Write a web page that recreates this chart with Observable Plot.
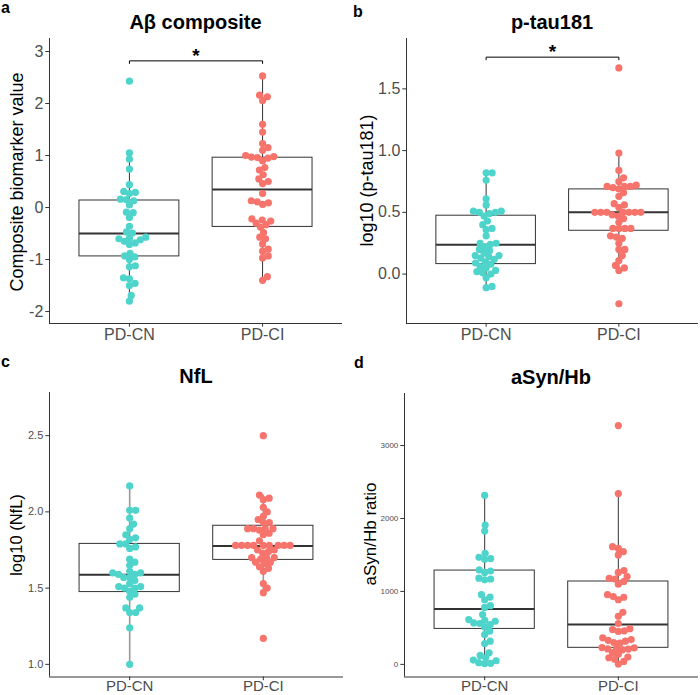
<!DOCTYPE html>
<html><head><meta charset="utf-8">
<script src="https://cdn.jsdelivr.net/npm/d3@7"></script>
<script src="https://cdn.jsdelivr.net/npm/@observablehq/plot@0.6"></script>
<style>
body{margin:0;background:#fff;}
#wrap{position:relative;width:700px;height:695px;overflow:hidden;font-family:"Liberation Sans",Arial,Helvetica,sans-serif;}
.p{position:absolute;}
</style>
</head><body><div id="wrap"></div>
<script>
// ---- data ----
const groups = ["PD-CN", "PD-CI"];
const groupColors = ["#4FD4CB", "#F6746C"];

// a: Aβ composite
const abCN = [2.43, 1.05, 0.93, 0.74, 0.44, 0.31, 0.29, 0.27, 0.16, 0.15, 0.13, 0.05, -0.09, -0.1, -0.19, -0.36, -0.47, -0.49, -0.57, -0.59, -0.62, -0.6, -0.65, -0.68, -0.71, -0.88, -0.93, -0.95, -1.0, -1.12, -1.14, -1.35, -1.37, -1.46, -1.5, -1.69, -1.8];
const abCI = [2.53, 2.16, 2.13, 2.06, 1.6, 1.45, 1.23, 1.15, 1.1, 1.0, 0.98, 0.97, 0.96, 0.95, 0.9, 0.77, 0.72, 0.63, 0.55, 0.5, 0.46, 0.27, 0.13, 0.11, 0.09, 0.06, -0.22, -0.24, -0.26, -0.3, -0.33, -0.38, -0.48, -0.57, -0.6, -0.7, -0.8, -0.84, -0.93, -0.97, -1.33, -1.4];
// box stats per group: [lower whisker, Q1, median, Q3, upper whisker]
const abBox = [[-1.8, -0.94, -0.5, 0.135, 1.05], [-1.4, -0.373, 0.347, 0.958, 2.53]];
const abTicks = [-2, -1, 0, 1, 2, 3];
const abSig = ["PD-CN", "PD-CI", 2.82, "*"];

// b: p-tau181
const ptCN = [0.82, 0.82, 0.76, 0.61, 0.56, 0.51, 0.51, 0.5, 0.5, 0.49, 0.47, 0.43, 0.4, 0.37, 0.36, 0.31, 0.25, 0.24, 0.25, 0.22, 0.2, 0.19, 0.17, 0.15, 0.15, 0.14, 0.13, 0.12, 0.1, 0.09, 0.08, 0.06, 0.05, 0.03, 0.02, 0.01, 0.0, -0.03, -0.1, -0.11];
const ptCI = [1.67, 0.98, 0.84, 0.78, 0.75, 0.72, 0.71, 0.71, 0.7, 0.71, 0.69, 0.66, 0.63, 0.57, 0.56, 0.54, 0.5, 0.5, 0.5, 0.5, 0.5, 0.5, 0.5, 0.48, 0.47, 0.45, 0.42, 0.37, 0.37, 0.37, 0.37, 0.31, 0.3, 0.29, 0.25, 0.2, 0.2, 0.15, 0.11, 0.07, 0.05, 0.03, -0.24];
const ptBox = [[-0.11, 0.081, 0.238, 0.473, 0.82], [0.02, 0.351, 0.5, 0.686, 0.98]];
const ptTicks = [0, 0.5, 1.0, 1.5];
const ptSig = ["PD-CN", "PD-CI", 1.757, "*"];

// c: NfL
const nfCN = [2.17, 2.01, 2.01, 1.96, 1.92, 1.89, 1.85, 1.83, 1.82, 1.79, 1.79, 1.77, 1.76, 1.69, 1.67, 1.65, 1.61, 1.6, 1.6, 1.59, 1.59, 1.57, 1.57, 1.55, 1.53, 1.51, 1.51, 1.5, 1.5, 1.48, 1.46, 1.44, 1.37, 1.37, 1.34, 1.34, 1.24, 1.0];
const nfCI = [2.5, 2.11, 2.09, 2.08, 2.03, 2.0, 1.97, 1.95, 1.93, 1.93, 1.89, 1.89, 1.89, 1.88, 1.89, 1.86, 1.85, 1.81, 1.78, 1.78, 1.78, 1.78, 1.78, 1.78, 1.78, 1.78, 1.78, 1.75, 1.75, 1.74, 1.73, 1.7, 1.7, 1.7, 1.69, 1.67, 1.67, 1.66, 1.64, 1.63, 1.61, 1.53, 1.5, 1.47, 1.17];
const nfBox = [[1.0, 1.474, 1.587, 1.79, 2.17], [1.47, 1.685, 1.776, 1.909, 2.11]];
const nfTicks = [1.0, 1.5, 2.0, 2.5];

// d: aSyn/Hb
const asCN = [2318, 1909, 1827, 1523, 1468, 1450, 1441, 1295, 1280, 1260, 1182, 1170, 1159, 955, 923, 886, 805, 780, 682, 614, 605, 591, 568, 560, 545, 514, 455, 409, 318, 286, 159, 123, 91, 59, 50, 23, 15, 10];
const asCI = [3273, 2341, 1614, 1590, 1545, 1500, 1286, 1260, 1204, 1180, 1170, 1136, 1100, 955, 930, 920, 886, 714, 660, 560, 490, 477, 460, 452, 364, 340, 330, 318, 300, 290, 227, 220, 210, 200, 212, 230, 160, 140, 100, 91, 70, 40, 5];
const asBox = [[5, 486, 759, 1286, 2318], [5, 227, 545, 1136, 2341]];
const asTicks = [0, 1000, 2000, 3000];

const titles = ["Aβ composite", "p-tau181", "NfL", "aSyn/Hb"];
const yTitles = ["Composite biomarker value", "log10 (p-tau181)", "log10 (NfL)", "aSyn/Hb ratio"];
const letters = ["a", "b", "c", "d"];

// ---- beeswarm layout (pixel space) ----
function swarm(values, pxY, d) {
  const order = values.map((v, i) => i).sort((a, b) => values[a] - values[b]);
  const placed = [], out = new Array(values.length);
  for (const i of order) {
    const y = values[i] * pxY;
    const near = placed.filter(p => Math.abs(p.y - y) < d);
    const cands = [0];
    for (const p of near) {
      const dx = Math.sqrt(d * d - (p.y - y) ** 2);
      cands.push(p.x + dx, p.x - dx);
    }
    cands.sort((a, b) => Math.abs(a) - Math.abs(b));
    let best = 0;
    for (const c of cands) {
      if (near.every(p => (p.x - c) ** 2 + (p.y - y) ** 2 >= d * d - 1e-6)) { best = c; break; }
    }
    placed.push({x: best, y});
    out[i] = best;
  }
  return out;
}

const FONT = '"Liberation Sans", Arial, Helvetica, sans-serif';

function panel(cfg) {
  const {cn, ci, box, domain, ticks, fmt, W, H, ml, mr, mt, mb, tickFs, xFs, xPad, sig, wColor, wWidth} = cfg;
  const innerW = W - ml - mr, innerH = H - mt - mb;
  const pxX = innerW / 2.2, pxY = innerH / (domain[1] - domain[0]);
  const sets = [cn, ci].map((vals, gi) => {
    const off = swarm(vals, pxY, 6);
    return vals.map((v, i) => ({x: gi + 1 + off[i] / pxX, y: v}));
  });
  const boxes = box.map((b, gi) => ({x: gi + 1, lo: b[0], q1: b[1], med: b[2], q3: b[3], hi: b[4]}));
  const marks = [
    Plot.ruleX(boxes, {x: "x", y1: "q3", y2: "hi", stroke: wColor, strokeWidth: wWidth}),
    Plot.ruleX(boxes, {x: "x", y1: "lo", y2: "q1", stroke: wColor, strokeWidth: wWidth}),
    Plot.rect(boxes, {x1: d => d.x - 0.375, x2: d => d.x + 0.375, y1: "q1", y2: "q3", fill: "white", stroke: "#333", strokeWidth: 1}),
    Plot.ruleY(boxes, {x1: d => d.x - 0.375, x2: d => d.x + 0.375, y: "med", stroke: "#333", strokeWidth: 2}),
    Plot.dot(sets[0], {x: "x", y: "y", r: 3.6, fill: groupColors[0], stroke: null}),
    Plot.dot(sets[1], {x: "x", y: "y", r: 3.6, fill: groupColors[1], stroke: null}),
    Plot.ruleX([0.4], {stroke: "#333", strokeWidth: 1}),
    Plot.ruleY([domain[0]], {stroke: "#333", strokeWidth: 1}),
    Plot.axisY({ticks, tickFormat: fmt, tickSize: 3.7, tickPadding: 2.5, fontSize: tickFs, stroke: "#333", fill: "#4d4d4d", label: null}),
    Plot.axisX({ticks: [1, 2], tickFormat: d => groups[d - 1], tickSize: 3.7, tickPadding: xPad, fontSize: xFs, stroke: "#333", fill: "#4d4d4d", label: null})
  ];
  if (sig) {
    const x1 = groups.indexOf(sig[0]) + 1, x2 = groups.indexOf(sig[1]) + 1, ys = sig[2];
    const tip = ys - 2.6 / pxY;
    marks.push(Plot.line([{x: x1, y: tip}, {x: x1, y: ys}, {x: x2, y: ys}, {x: x2, y: tip}], {x: "x", y: "y", stroke: "black", strokeWidth: 1}));
    marks.push(Plot.text([{x: (x1 + x2) / 2, y: ys, t: sig[3]}], {x: "x", y: "y", text: "t", fontSize: 19, fontWeight: "bold", fill: "black", dy: -5}));
  }
  return Plot.plot({
    width: W, height: H, marginLeft: ml, marginRight: mr, marginTop: mt, marginBottom: mb,
    x: {domain: [0.4, 2.6], label: null},
    y: {domain, label: null},
    style: {background: "transparent", overflow: "visible", fontFamily: FONT},
    marks
  });
}

const wrap = document.getElementById("wrap");
function place(el, left, top) {
  const d = document.createElement("div");
  d.className = "p"; d.style.left = left + "px"; d.style.top = top + "px";
  d.appendChild(el); wrap.appendChild(d);
}

place(panel({cn: abCN, ci: abCI, box: abBox, domain: [-2.23, 3.25], ticks: abTicks, fmt: d => String(d),
  W: 350, H: 345, ml: 49, mr: 8, mt: 38, mb: 22, tickFs: 16, xFs: 16, xPad: 1, sig: abSig, wColor: "#333", wWidth: 1}), 0, 0);
place(panel({cn: ptCN, ci: ptCI, box: ptBox, domain: [-0.40, 1.908], ticks: ptTicks, fmt: d3.format(".1f"),
  W: 350, H: 345, ml: 56, mr: 2, mt: 38, mb: 22, tickFs: 16, xFs: 16, xPad: 1, sig: ptSig, wColor: "#333", wWidth: 1}), 350, 0);
place(panel({cn: nfCN, ci: nfCI, box: nfBox, domain: [0.917, 2.783], ticks: nfTicks, fmt: d3.format(".1f"),
  W: 350, H: 350, ml: 49, mr: 7, mt: 47, mb: 18.5, tickFs: 11, xFs: 15, xPad: 0, sig: null, wColor: "#999", wWidth: 1.6}), 0, 345);
place(panel({cn: asCN, ci: asCI, box: asBox, domain: [-173, 3713], ticks: asTicks, fmt: d3.format("d"),
  W: 350, H: 350, ml: 54, mr: 2, mt: 48, mb: 18.5, tickFs: 8, xFs: 15, xPad: 0, sig: null, wColor: "#333", wWidth: 1}), 350, 345);

// ---- overlay text: panel letters, titles, y titles ----
const ov = d3.create("svg").attr("width", 700).attr("height", 695)
  .style("position", "absolute").style("left", 0).style("top", 0)
  .style("pointer-events", "none").style("font-family", FONT);
const letterPos = [[1, 13], [353, 17], [1, 367], [354, 368]];
letters.forEach((l, i) => ov.append("text").attr("x", letterPos[i][0]).attr("y", letterPos[i][1])
  .attr("font-size", 16).attr("font-weight", "bold").attr("fill", "black").text(l));
const titlePos = [[195.5, 29], [552, 29], [196, 383], [551, 384]];
titles.forEach((t, i) => ov.append("text").attr("x", titlePos[i][0]).attr("y", titlePos[i][1])
  .attr("text-anchor", "middle").attr("font-size", 20).attr("font-weight", "bold").attr("fill", "black").text(t));
const yTitlePos = [[17, 182, 18], [367, 180.5, 18], [16, 535, 16.5], [370.5, 534, 17]];
yTitles.forEach((t, i) => ov.append("text")
  .attr("transform", `translate(${yTitlePos[i][0]},${yTitlePos[i][1]}) rotate(-90)`)
  .attr("text-anchor", "middle").attr("dominant-baseline", "central")
  .attr("font-size", yTitlePos[i][2]).attr("fill", "black").text(t));
wrap.appendChild(ov.node());
</script></body></html>
